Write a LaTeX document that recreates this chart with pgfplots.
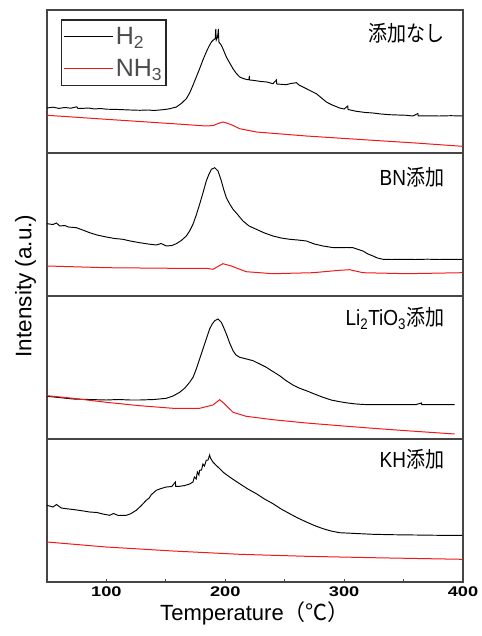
\documentclass[border=0pt]{standalone}
\usepackage{pgfplots}
\pgfplotsset{compat=1.18}
\usepgfplotslibrary{groupplots}
\usepackage{fontspec}
\setmainfont{Liberation Sans}
\newfontfamily\jp{Noto Sans CJK JP}
\definecolor{hred}{RGB}{240,25,25}
\definecolor{frame}{RGB}{70,70,70}
\newcommand{\plab}[1]{\scalebox{1}[1.15]{#1}}
\begin{document}
\begin{tikzpicture}
\begin{groupplot}[
  group style={group size=1 by 4, vertical sep=0pt},
  width=416pt, height=143pt, scale only axis,
  xmin=50, xmax=400, ymin=0, ymax=143,
  ytick=\empty, xtick=\empty,
  axis line style={frame, line width=1.1pt},
  every axis plot/.append style={line width=0.95pt},
  legend image code/.code={\draw[#1] (0pt,0pt) -- (49pt,0pt);},
]
% ---------------- panel 1 ----------------
\nextgroupplot[
  legend style={at={(rel axis cs:0.034,0.935)}, anchor=north west,
    draw=black!85, line width=1.3pt, text=black!70,
    font=\fontsize{25}{25}\selectfont, inner xsep=2pt, inner ysep=5.5pt,
    row sep=9pt, cells={anchor=west}},
]
\addplot[black, line width=0.95pt] coordinates {
(50,45) (55,45.8) (60,44.6) (65,45.5) (70,44.8) (75,46.2) (76,44.5) (80,44.6) (85,45) (90,44) (95,44.5) (100,43.8) (110,43.5) (120,43) (128,42.7) (135,43) (140,42.5) (147.6,43.3) (153,44.2) (158.8,46) (163,49.5) (167.2,54.3) (170,60) (172.8,67.7) (175.6,76) (178.4,84.3) (181.2,93) (184,101) (186,106) (188.3,111) (190,113) (191.5,114.3) (192,124) (192.4,113) (193.5,116) (194.2,124) (194.6,111) (196.7,107.7) (198.8,102) (200.9,96) (203.7,90) (206.5,84.3) (209,80) (212.1,76) (215,74.5) (218,73.5) (220,73.3) (220.2,77) (220.4,73) (223.3,72.7) (230,71.5) (235,71) (240.1,69.3) (243,73) (243.3,69) (251.3,68.3) (255,69.5) (259.8,70.3) (262,68) (268.2,64.3) (272,62) (276.6,59.3) (280,56) (285,51) (290,48) (296.2,45) (300,44) (303,47) (303.3,43.5) (310.2,41.7) (318,40.5) (324.2,40) (331,39) (338.3,38.3) (345,38) (352.3,37.7) (358,37) (362,39.5) (362.3,37.2) (370,37.2) (380,37) (390,37.3) (399.5,37)
};
\addlegendentry{H\textsubscript{2}}
\addplot[hred, line width=1pt] coordinates {
(50,37.7) (99.9,33.7) (156,29.3) (184,27) (190,27.5) (194,29.5) (198,31) (201,30) (205.1,28.3) (212.1,24.3) (226.1,21) (268.2,17) (324.2,12.7) (360,10) (399.4,6.7)
};
\addlegendentry{NH\textsubscript{3}}
\node[anchor=east, inner sep=0pt] at (rel axis cs:0.955,0.84) {\plab{\fontsize{19}{19}\selectfont\jp 添加なし}};
% ---------------- panel 2 ----------------
\nextgroupplot[
  ylabel={Intensity (a.u.)},
  ylabel style={at={(rel axis cs:-0.026,0.07)}, anchor=south, font=\fontsize{22.5}{22.5}\selectfont, inner sep=0pt},
]
\addplot[black] coordinates {
(50,72.3) (55,71.5) (58,73) (60.7,70) (65,70.5) (68,69) (74.7,68.3) (80,66) (85.9,63.3) (92,61) (99.9,59) (107,57.5) (113.9,56.7) (120,55) (128,53.3) (135,52) (142,51) (146,52.5) (150.4,50) (155,50.5) (158.8,52.3) (163,55.5) (167.2,60) (170,65) (172.8,71.7) (175.6,81) (178.4,91.7) (181.2,103) (184,115) (186,121) (188.3,126.7) (191.1,128.3) (193.9,125) (196.7,115) (198.8,106) (200.9,98.3) (203.7,92) (206.5,86.7) (210,82) (214.9,75) (220,70) (226.1,66.7) (233,63) (240.1,60) (247,58) (254.2,56.7) (261,56) (268.2,55) (275,52) (282.2,50) (290,48.5) (296.2,48.3) (302,48.5) (307.4,48.3) (312,46.5) (315.8,45) (320,42) (324.3,40) (328,38) (332.7,36.7) (340,36.5) (350,36.7) (360,36.5) (370,36.8) (380,36.5) (390,36.7) (399.4,36.7)
};
\addplot[hred, line width=1pt] coordinates {
(50,30) (99.9,28.3) (156,27.7) (184,27.7) (189.6,26.7) (198,32.3) (205,30) (217.6,24.3) (240.1,22.3) (273.8,23.3) (296.2,25.7) (304.6,26.3) (315.8,23.3) (352.3,22.3) (399.4,23.3)
};
\node[anchor=east, inner sep=0pt] at (rel axis cs:0.955,0.83) {\plab{\fontsize{19}{19}\selectfont BN{\jp 添加}}};
% ---------------- panel 3 ----------------
\nextgroupplot
\addplot[black] coordinates {
(50,42.7) (60,41.5) (71.9,40) (85,39.5) (99.9,39) (110,39.5) (120,39) (128,39) (140,39.5) (150.4,40.7) (156,43) (161.6,46.7) (166,51) (170,56.7) (173,62) (175.6,70) (178.4,80) (181.2,90) (184,100) (186.8,110) (189,115) (191.1,118.3) (193.9,120) (196.7,116.7) (198.8,111) (200.9,105) (203.7,96) (206.5,88.3) (209,84) (212.1,81.7) (218,80) (223.3,78.3) (229,75) (234.5,71.7) (240,67.5) (245.7,63.3) (251,58.5) (256.9,54) (262,51) (268.2,48.3) (275,45) (282.2,41.7) (289,39) (296.2,37.3) (303,36) (310.2,35) (317,34.5) (324.3,34.3) (340,34.3) (360,34.3) (365,36) (365.3,34.3) (393,34.3)
};
\addplot[hred, line width=1pt] coordinates {
(50,43.3) (71.9,40.7) (99.9,36.7) (128,33.3) (156,30.7) (178.4,30.7) (189.6,34) (195.3,39.3) (199.5,35) (206.5,26.7) (217.6,22.7) (240.1,19.3) (268.2,16) (296.2,13.3) (324.3,10.7) (352.3,8.3) (393,5)
};
\node[anchor=east, inner sep=0pt] at (rel axis cs:0.955,0.84) {\plab{\fontsize{19}{19}\selectfont Li\textsubscript{2}TiO\textsubscript{3}{\jp 添加}}};
% ---------------- panel 4 ----------------
\nextgroupplot[
  xtick={100,200,300,400}, minor xtick={150,250,350},
  xticklabels={\scalebox{1.3}[1]{100},\scalebox{1.3}[1]{200},\scalebox{1.3}[1]{300},\scalebox{1.3}[1]{400}},
  xtick pos=bottom, tick align=inside,
  major tick length=3.5pt, minor tick length=3.5pt,
  every tick/.style={frame, line width=0.8pt},
  xticklabel style={font=\bfseries\fontsize{14}{14}\selectfont, yshift=-1pt},
  xlabel={Temperature{\jp （℃）}},
  xlabel style={font=\fontsize{22}{22}\selectfont, yshift=2pt},
]
\addplot[black] coordinates {
(50,76.7) (55,75) (58,77.5) (62,74) (66.3,73.3) (72,72.5) (78,71.5) (85.9,70) (92,69.5) (97,68) (102.7,66.7) (106,68.5) (110,66.5) (116.7,66.7) (120,68) (125.1,71.7) (129,76) (133.5,81.7) (136,84) (137.5,87) (141.9,91.7) (146,93.5) (150.4,95) (155,95.5) (158,100) (158.3,95.5) (161.6,95.7) (166,96.5) (170,98) (172.8,100) (174,105) (175.5,103) (176.5,110) (177.8,107) (178.4,111.7) (180,112) (181.2,118) (182.5,116) (184,121.7) (185.5,122) (186.8,127) (187.5,124) (189.6,120) (192,117) (195.3,113.3) (199,109) (203.7,105) (208,101.5) (212.1,98.3) (219,93) (226.1,88.3) (233,83) (240.1,78.3) (247,73) (254.2,68.3) (261,64) (268.2,60) (275,56.5) (282.2,53.3) (289,51) (296.2,49.3) (310,48.5) (324.3,47.7) (340,47.3) (360,47) (380,46.7) (399.4,46.7)
};
\addplot[hred, line width=1pt] coordinates {
(50,40) (99.9,35) (156,31) (212.1,27.7) (268.2,25.7) (324.3,24.3) (399.4,22.7)
};
\node[anchor=east, inner sep=0pt] at (rel axis cs:0.955,0.86) {\plab{\fontsize{19}{19}\selectfont KH{\jp 添加}}};
\end{groupplot}
\path (group c1r1.north west) ++(-47pt,10pt) coordinate (bbA);
\path (group c1r1.north west) ++(432pt,-626pt) coordinate (bbB);
\path (bbA) rectangle (bbB);
\end{tikzpicture}
\end{document}
